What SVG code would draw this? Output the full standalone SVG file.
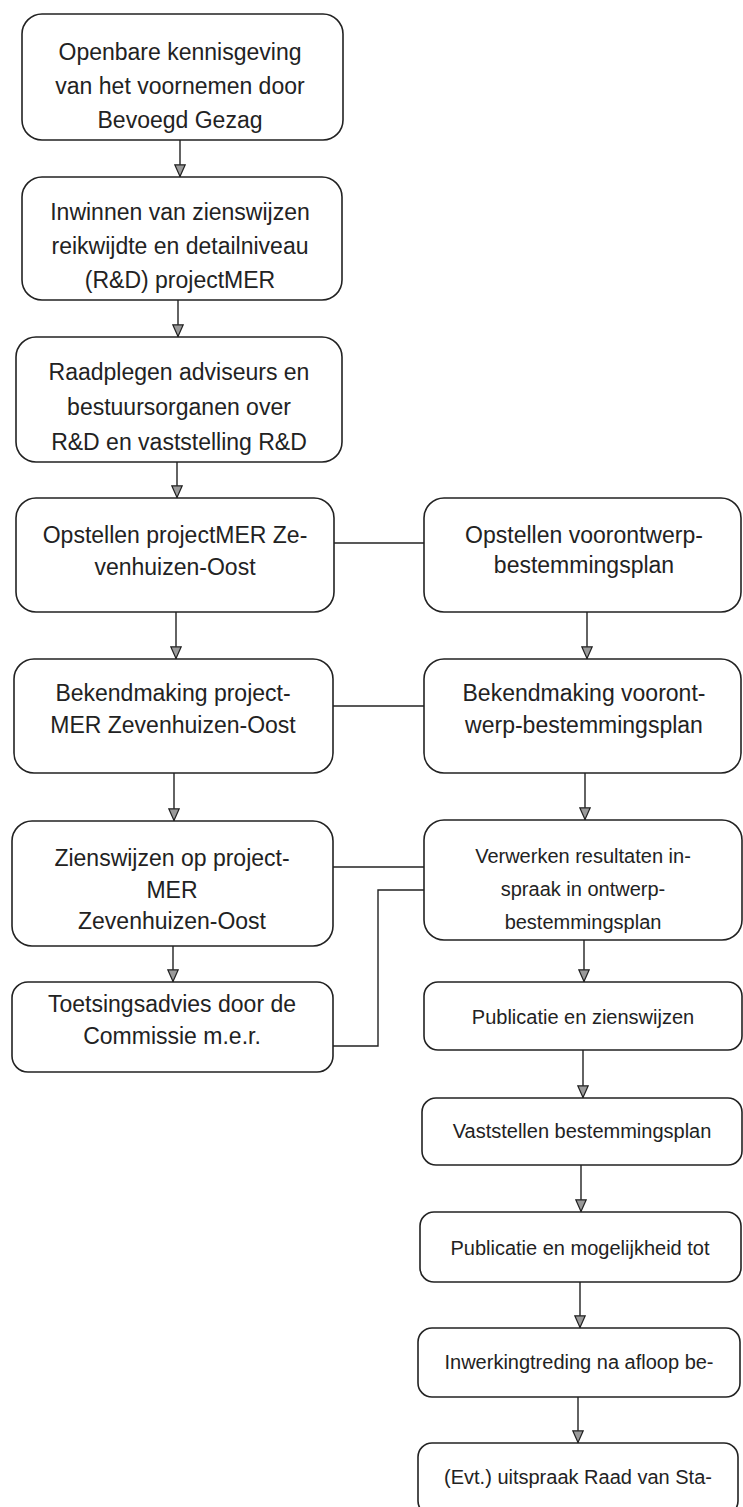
<svg xmlns="http://www.w3.org/2000/svg" width="743" height="1507" viewBox="0 0 743 1507">
<style>
.box{fill:#fff;stroke:#222;stroke-width:1.6}
.t{font-family:"Liberation Sans",Arial,sans-serif;font-size:23px;fill:#222;text-anchor:middle}
.s{font-family:"Liberation Sans",Arial,sans-serif;font-size:20px;fill:#222;text-anchor:middle}
.c{fill:none;stroke:#222;stroke-width:1.4}
</style>
<defs>
<marker id="ah" viewBox="0 0 12 13" refX="6" refY="13" markerWidth="12" markerHeight="13" markerUnits="userSpaceOnUse" orient="0">
<path d="M0.8,0.8 L11.2,0.8 L6,12.5 Z" fill="#9a9a9a" stroke="#222" stroke-width="1.2"/>
</marker>
</defs>
<rect width="743" height="1507" fill="#fff"/>
<g id="connectors">
<line class="c" x1="180" y1="140" x2="180" y2="177" marker-end="url(#ah)"/>
<line class="c" x1="178" y1="300" x2="178" y2="337" marker-end="url(#ah)"/>
<line class="c" x1="177" y1="462" x2="177" y2="498" marker-end="url(#ah)"/>
<line class="c" x1="176" y1="612" x2="176" y2="659" marker-end="url(#ah)"/>
<line class="c" x1="174" y1="773" x2="174" y2="821" marker-end="url(#ah)"/>
<line class="c" x1="173" y1="937" x2="173" y2="982" marker-end="url(#ah)"/>
<line class="c" x1="587" y1="612" x2="587" y2="659" marker-end="url(#ah)"/>
<line class="c" x1="585" y1="773" x2="585" y2="820" marker-end="url(#ah)"/>
<line class="c" x1="584" y1="935" x2="584" y2="982" marker-end="url(#ah)"/>
<line class="c" x1="583" y1="1050" x2="583" y2="1098" marker-end="url(#ah)"/>
<line class="c" x1="581" y1="1165" x2="581" y2="1212" marker-end="url(#ah)"/>
<line class="c" x1="580" y1="1282" x2="580" y2="1328" marker-end="url(#ah)"/>
<line class="c" x1="578" y1="1397" x2="578" y2="1443" marker-end="url(#ah)"/>
<line class="c" x1="334" y1="543" x2="424" y2="543"/>
<line class="c" x1="333" y1="706" x2="424" y2="706"/>
<line class="c" x1="333" y1="867" x2="424" y2="867"/>
<polyline class="c" points="333,1046 378,1046 378,890 424,890"/>
</g>
<g id="n1"><rect class="box" x="22" y="14" width="321" height="126" rx="20"/>
<text class="t" x="180" y="60">Openbare kennisgeving</text>
<text class="t" x="180" y="94">van het voornemen door</text>
<text class="t" x="180" y="128">Bevoegd Gezag</text></g>
<g id="n2"><rect class="box" x="22" y="177" width="320" height="123" rx="20"/>
<text class="t" x="180" y="220">Inwinnen van zienswijzen</text>
<text class="t" x="180" y="254">reikwijdte en detailniveau</text>
<text class="t" x="180" y="288">(R&amp;D) projectMER</text></g>
<g id="n3"><rect class="box" x="16" y="337" width="326" height="125" rx="20"/>
<text class="t" x="179" y="380">Raadplegen adviseurs en</text>
<text class="t" x="179" y="415">bestuursorganen over</text>
<text class="t" x="179" y="450">R&amp;D en vaststelling R&amp;D</text></g>
<g id="n4"><rect class="box" x="16" y="498" width="318" height="114" rx="20"/>
<text class="t" x="175" y="543">Opstellen projectMER Ze-</text>
<text class="t" x="175" y="575">venhuizen-Oost</text></g>
<g id="n5"><rect class="box" x="14" y="659" width="319" height="114" rx="20"/>
<text class="t" x="173" y="701">Bekendmaking project-</text>
<text class="t" x="173" y="733">MER Zevenhuizen-Oost</text></g>
<g id="n6"><rect class="box" x="12" y="821" width="321" height="125" rx="20"/>
<text class="t" x="172" y="866">Zienswijzen op project-</text>
<text class="t" x="172" y="898">MER</text>
<text class="t" x="172" y="929">Zevenhuizen-Oost</text></g>
<g id="n7"><rect class="box" x="12" y="982" width="321" height="90" rx="16"/>
<text class="t" x="172" y="1012">Toetsingsadvies door de</text>
<text class="t" x="172" y="1044">Commissie m.e.r.</text></g>
<g id="r1"><rect class="box" x="424" y="498" width="317" height="114" rx="20"/>
<text class="t" x="584" y="543">Opstellen voorontwerp-</text>
<text class="t" x="584" y="573">bestemmingsplan</text></g>
<g id="r2"><rect class="box" x="424" y="659" width="317" height="114" rx="20"/>
<text class="t" x="584" y="701">Bekendmaking vooront-</text>
<text class="t" x="584" y="733">werp-bestemmingsplan</text></g>
<g id="r3"><rect class="box" x="424" y="820" width="318" height="120" rx="20"/>
<text class="s" x="583" y="863">Verwerken resultaten in-</text>
<text class="s" x="583" y="896">spraak in ontwerp-</text>
<text class="s" x="583" y="929">bestemmingsplan</text></g>
<g id="r4"><rect class="box" x="424" y="982" width="318" height="68" rx="14"/>
<text class="s" x="583" y="1024">Publicatie en zienswijzen</text></g>
<g id="r5"><rect class="box" x="422" y="1098" width="320" height="67" rx="14"/>
<text class="s" x="582" y="1138">Vaststellen bestemmingsplan</text></g>
<g id="r6"><rect class="box" x="420" y="1212" width="321" height="70" rx="14"/>
<text class="s" x="580" y="1255">Publicatie en mogelijkheid tot</text></g>
<g id="r7"><rect class="box" x="418" y="1328" width="322" height="69" rx="14"/>
<text class="s" x="579" y="1369">Inwerkingtreding na afloop be-</text></g>
<g id="r8"><rect class="box" x="418" y="1443" width="320" height="72" rx="14"/>
<text class="s" x="578" y="1484">(Evt.) uitspraak Raad van Sta-</text></g>
</svg>
